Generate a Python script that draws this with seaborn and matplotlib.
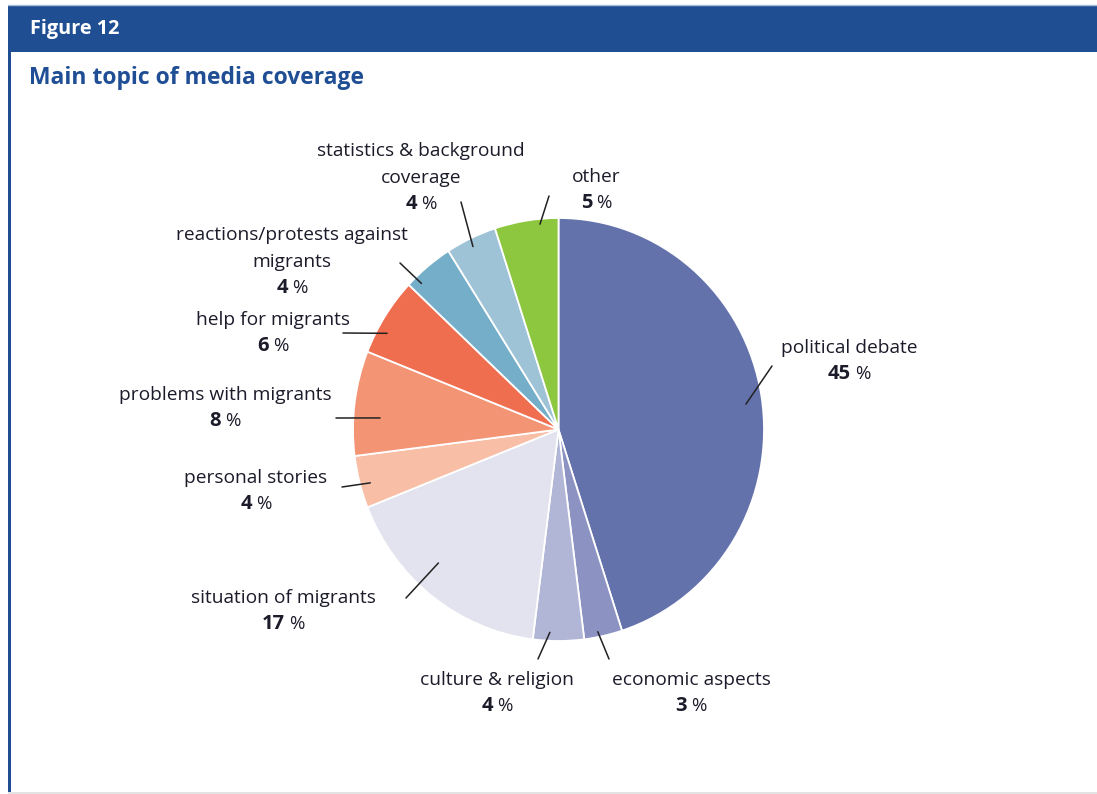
import numpy as np
import matplotlib
matplotlib.use("Agg")
import matplotlib.pyplot as plt
from matplotlib.patches import Rectangle
from matplotlib.lines import Line2D
import seaborn as sns

# ---- data -------------------------------------------------------------
topics = [
    "political debate",
    "economic aspects",
    "culture & religion",
    "situation of migrants",
    "personal stories",
    "problems with migrants",
    "help for migrants",
    "reactions/protests against\nmigrants",
    "statistics & background\ncoverage",
    "other",
]
shares = [45, 3, 4, 17, 4, 8, 6, 4, 4, 5]
colors = [
    "#6472AC", "#8C93C3", "#B2B6D6", "#E2E3EF", "#F8BEA6",
    "#F39475", "#EF6E50", "#74AEC9", "#9EC3D6", "#8DC63F",
]

# ---- layout (pixel positions of each label block and leader line) -----
W, H = 1097, 794
# (label centre x, percent line centre y)
label_pos = [
    (849, 375), (691, 707), (497, 707), (283, 625), (256, 505),
    (225, 422), (273, 347), (292, 289), (421, 205), (596, 204),
]
# outer end of each leader line (pixels)
line_outer = [
    (772, 366), (609, 659), (538, 659), (406, 598), (342, 487),
    (336, 418), (343, 333), (400, 263), (461, 202), (549, 196),
]
# inner end of each leader line: (angle offset from wedge middle, radius fraction)
line_inner = [
    (-1.5, 0.92), (-1.3, 0.975), (-2.5, 0.96), (-5.0, 0.86), (1.0, 0.95),
    (3.6, 0.87), (3.8, 0.95), (4.4, 0.96), (0.5, 0.96), (-3.7, 0.975),
]

sns.set_theme(style="white")
plt.rcParams["font.family"] = ["Open Sans", "DejaVu Sans"]

fig = plt.figure(figsize=(W / 100, H / 100), dpi=100)
fig.patch.set_facecolor("white")

def fx(px):
    return px / W

def fy(py):
    return 1 - py / H

# frame: header bar, left rule and bottom rule
fig.patches.append(Rectangle((fx(8), fy(52)), 1 - fx(8), (52 - 5) / H,
                             transform=fig.transFigure, facecolor="#1F4E93",
                             edgecolor="none", zorder=0))
fig.patches.append(Rectangle((fx(8), fy(792)), 3 / W, (792 - 52) / H,
                             transform=fig.transFigure, facecolor="#1F4E93",
                             edgecolor="none", zorder=0))
fig.patches.append(Rectangle((fx(8), 0), 1 - fx(8), 2 / H,
                             transform=fig.transFigure, facecolor="#E3E3E3",
                             edgecolor="none", zorder=0))
fig.lines.append(Line2D([fx(8), 1], [fy(4.5), fy(4.5)], transform=fig.transFigure,
                        color="#A9BCD8", lw=1))

fig.text(fx(30), fy(29), "Figure 12", color="white", fontsize=14.3,
         fontweight="bold", ha="left", va="center")
fig.text(fx(29), fy(78), "Main topic of media coverage", color="#1F4E95",
         fontsize=16.5, fontweight="bold", ha="left", va="center")

# ---- pie ---------------------------------------------------------------
cx, cy = 558.5, 429.5
rx, ry = 205.5, 211.5
ax = fig.add_axes([0, 0, 1, 1])
wedges, _ = ax.pie(shares, colors=colors, startangle=90, counterclock=False,
                   radius=1, center=(0, 0),
                   wedgeprops=dict(edgecolor="white", linewidth=1.3))
ax.set_aspect("auto")
ax.set_xlim(-cx / rx, (W - cx) / rx)
ax.set_ylim(-(H - cy) / ry, cy / ry)
ax.axis("off")

text_color = "#1B1B2A"
label_size = 13.8
renderer = fig.canvas.get_renderer()

def percent_label(px, py, value):
    num = fig.text(0, fy(py - 1), f"{value}", fontsize=14.5, fontweight="bold",
                   color=text_color, ha="left", va="center")
    sign = fig.text(0, fy(py - 1), "%", fontsize=13.5, color=text_color,
                    ha="left", va="center")
    wn = num.get_window_extent(renderer).width
    ws = sign.get_window_extent(renderer).width
    gap = 4
    left = px - (wn + gap + ws) / 2
    num.set_x(fx(left))
    sign.set_x(fx(left + wn + gap))

for w, name, share, (lx, ly), (ox, oy), (dang, rf) in zip(
        wedges, topics, shares, label_pos, line_outer, line_inner):
    lines = name.split("\n")
    for i, line in enumerate(reversed(lines)):
        fig.text(fx(lx), fy(ly - 27 * (i + 1)), line, fontsize=label_size,
                 color=text_color, ha="center", va="center")
    percent_label(lx, ly, share)
    mid = np.deg2rad((w.theta1 + w.theta2) / 2 + dang)
    xin, yin = rf * np.cos(mid), rf * np.sin(mid)
    ax.annotate("", xy=(xin, yin), xycoords="data",
                xytext=(fx(ox), fy(oy)), textcoords="figure fraction",
                arrowprops=dict(arrowstyle="-", color="#222222", lw=1.1,
                                shrinkA=0, shrinkB=0))

fig.savefig("out.png", dpi=100)
